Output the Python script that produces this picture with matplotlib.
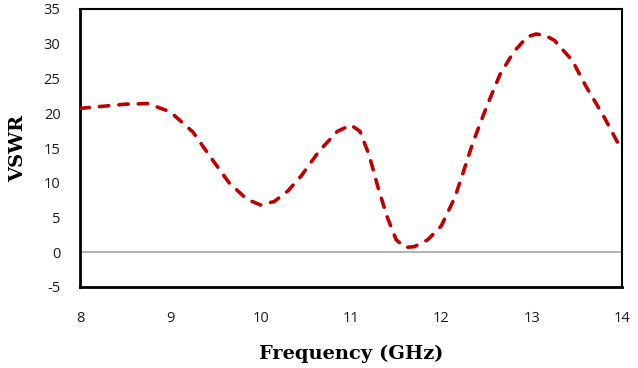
import matplotlib
matplotlib.use("Agg")
import matplotlib.pyplot as plt

plt.rcParams["axes.unicode_minus"] = False

# VSWR vs frequency
freq = [8.0, 8.25, 8.5, 8.75, 9.0, 9.25, 9.45, 9.65, 9.85, 10.0, 10.15, 10.3,
        10.45, 10.65, 10.85, 11.0, 11.1, 11.2, 11.3, 11.4, 11.5, 11.6, 11.7,
        11.85, 12.0, 12.15, 12.25, 12.35, 12.5, 12.65, 12.8, 12.95, 13.05,
        13.15, 13.25, 13.45, 13.6, 13.8, 14.0]
vswr = [20.7, 21.0, 21.3, 21.4, 20.2, 17.3, 13.6, 10.0, 7.6, 6.8, 7.3, 8.8,
        11.0, 14.6, 17.4, 18.3, 17.4, 14.0, 9.3, 5.1, 1.8, 0.7, 0.8,
        1.8, 3.8, 7.9, 11.8, 15.8, 20.9, 25.6, 28.8, 31.0, 31.4,
        31.2, 30.5, 27.6, 23.9, 19.5, 14.6]

x_ticks = [8, 9, 10, 11, 12, 13, 14]
y_ticks = [-5, 0, 5, 10, 15, 20, 25, 30, 35]

fig = plt.figure(figsize=(6.38, 3.68), dpi=100)
ax = fig.add_axes([80 / 638, 1 - 287 / 368, 542 / 638, 278 / 368])

ax.axhline(0, color="#a6a6a6", linewidth=1.2, zorder=1)
ax.plot(freq, vswr, color="#c00000", linewidth=2.6, linestyle=(0, (2.6, 2.8)),
        dash_capstyle="round", zorder=3)

ax.set_xlim(8, 14)
ax.set_ylim(-5, 35)
ax.set_xticks(x_ticks)
ax.set_yticks(y_ticks)
ax.tick_params(length=0, labelsize=10.5, labelcolor="#1a1a2e")
ax.tick_params(axis="x", pad=17)
ax.tick_params(axis="y", pad=14)
for lab in ax.get_xticklabels() + ax.get_yticklabels():
    lab.set_fontfamily("Open Sans")

for side in ["top", "right"]:
    ax.spines[side].set_linewidth(1.5)
for side in ["left", "bottom"]:
    ax.spines[side].set_linewidth(2.0)

ax.set_xlabel("Frequency (GHz)", family="DejaVu Serif", fontweight="bold",
              fontsize=14, labelpad=14)
ax.set_ylabel("VSWR", family="DejaVu Serif", fontweight="bold",
              fontsize=14, labelpad=12)

fig.savefig("out.png", dpi=100)
